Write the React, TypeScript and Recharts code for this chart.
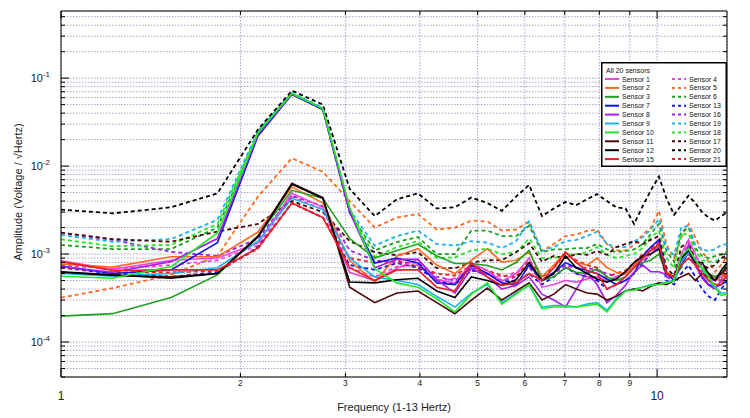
import React from 'react';
import { LineChart, Line, XAxis, YAxis, CartesianGrid, Legend, Label, ReferenceLine } from 'recharts';

// frequency bins (Hz)
const FREQS = [1.0, 1.22, 1.53, 1.83, 2.14, 2.44, 2.75, 3.05, 3.36, 3.66, 3.97, 4.27, 4.58, 4.88, 5.19, 5.49, 5.80, 6.10, 6.41, 6.71, 7.02, 7.32, 7.63, 7.93, 8.24, 8.54, 8.85, 9.15, 9.46, 9.76, 10.07, 10.37, 10.68, 10.98, 11.29, 11.59, 11.90, 12.20, 12.51, 12.81, 13.12];

// amplitudes, in units of 1e-3 V/sqrt(Hz)
const SENSOR_1 = [0.84, 0.67, 0.85, 0.9, 1.33, 4.9, 3.4, 0.62, 0.5, 0.69, 0.87, 0.51, 0.47, 0.79, 0.65, 0.49, 0.6, 0.9, 0.42, 0.45, 0.5, 0.48, 0.52, 0.55, 0.5, 0.55, 0.6, 0.7, 0.85, 1.0, 1.2, 0.6, 0.55, 1.0, 1.45, 1.0, 0.7, 0.6, 0.5, 0.55, 0.7];
const SENSOR_2 = [0.77, 0.71, 0.93, 0.93, 1.78, 5.8, 3.8, 0.85, 0.48, 0.95, 1.15, 0.75, 0.6, 0.85, 1.15, 0.81, 0.85, 1.05, 0.55, 0.75, 1.05, 0.8, 0.75, 0.9, 0.7, 0.62, 0.6, 0.75, 0.9, 1.1, 1.3, 0.63, 0.55, 0.8, 1.1, 0.8, 0.7, 0.6, 0.55, 0.5, 0.8];
const SENSOR_3 = [0.197, 0.21, 0.32, 0.58, 1.6, 5.3, 4.3, 1.5, 0.9, 1.1, 1.3, 0.95, 0.78, 0.78, 0.74, 0.66, 0.8, 1.1, 0.5, 0.55, 0.7, 0.62, 0.6, 0.68, 0.55, 0.5, 0.55, 0.7, 0.8, 0.85, 1.0, 0.6, 0.55, 0.7, 1.15, 0.85, 0.7, 0.6, 0.55, 0.6, 0.75];
const SENSOR_4 = [0.75, 0.68, 0.75, 0.85, 1.25, 4.5, 3.2, 0.7, 0.55, 0.72, 0.75, 0.5, 0.53, 0.69, 0.6, 0.55, 0.62, 0.72, 0.5, 0.6, 0.75, 0.6, 0.55, 0.55, 0.5, 0.55, 0.6, 0.75, 0.9, 1.05, 1.3, 0.6, 0.55, 0.95, 1.3, 0.9, 0.7, 0.6, 0.55, 0.6, 0.7];
const SENSOR_5 = [0.32, 0.41, 0.58, 0.95, 4.5, 12.3, 8.6, 4.0, 2.0, 2.6, 2.85, 1.9, 2.0, 2.4, 2.35, 1.85, 1.9, 2.35, 1.08, 1.3, 1.6, 1.67, 1.83, 1.9, 1.3, 1.1, 1.1, 1.27, 1.67, 2.0, 3.1, 1.27, 0.9, 1.55, 2.2, 1.55, 1.08, 0.82, 0.63, 0.75, 0.95];
const SENSOR_6 = [1.27, 1.14, 1.14, 2.0, 23, 66, 44, 2.9, 1.1, 1.37, 1.56, 1.0, 1.0, 1.85, 1.85, 1.6, 1.6, 2.1, 1.05, 1.13, 1.13, 1.17, 1.17, 1.3, 1.13, 1.05, 1.08, 1.13, 1.3, 1.7, 2.2, 1.08, 0.82, 1.8, 2.0, 1.17, 0.95, 0.9, 0.95, 0.98, 1.08];
const SENSOR_7 = [0.73, 0.6, 0.66, 1.35, 22, 65, 44, 3.0, 0.79, 0.9, 0.79, 0.47, 0.45, 0.75, 0.6, 0.47, 0.44, 0.75, 0.5, 0.62, 0.8, 0.7, 0.65, 0.6, 0.52, 0.45, 0.5, 0.6, 0.95, 1.2, 1.45, 0.6, 0.5, 0.75, 1.05, 0.75, 0.55, 0.45, 0.42, 0.45, 0.5];
const SENSOR_8 = [0.72, 0.62, 0.82, 1.5, 23, 66, 45, 3.0, 0.7, 0.87, 0.87, 0.51, 0.36, 0.69, 0.55, 0.4, 0.44, 0.55, 0.35, 0.3, 0.25, 0.4, 0.63, 0.45, 0.28, 0.34, 0.44, 0.63, 0.75, 0.63, 0.63, 0.58, 0.55, 0.82, 1.27, 0.75, 0.53, 0.44, 0.4, 0.5, 0.55];
const SENSOR_9 = [0.6, 0.56, 0.6, 0.7, 1.4, 4.3, 3.2, 0.9, 0.55, 0.5, 0.45, 0.33, 0.25, 0.36, 0.45, 0.28, 0.36, 0.44, 0.25, 0.26, 0.26, 0.25, 0.27, 0.28, 0.23, 0.31, 0.38, 0.4, 0.42, 0.45, 0.46, 0.48, 0.5, 0.8, 1.05, 0.85, 0.68, 0.5, 0.42, 0.36, 0.36];
const SENSOR_10 = [0.56, 0.53, 0.72, 1.74, 24, 67, 45, 3.4, 0.68, 0.47, 0.42, 0.31, 0.22, 0.35, 0.47, 0.27, 0.35, 0.45, 0.24, 0.25, 0.25, 0.25, 0.26, 0.27, 0.22, 0.3, 0.38, 0.39, 0.42, 0.44, 0.45, 0.47, 0.5, 0.95, 1.15, 0.85, 0.7, 0.55, 0.42, 0.34, 0.35];
const SENSOR_11 = [0.62, 0.57, 0.55, 0.6, 1.6, 6.4, 4.4, 0.42, 0.28, 0.36, 0.38, 0.28, 0.21, 0.3, 0.41, 0.3, 0.38, 0.47, 0.3, 0.35, 0.45, 0.4, 0.36, 0.35, 0.3, 0.33, 0.38, 0.4, 0.38, 0.43, 0.47, 0.45, 0.5, 0.55, 0.6, 0.5, 0.6, 0.55, 0.5, 0.6, 0.7];
const SENSOR_12 = [0.63, 0.58, 0.53, 0.6, 1.56, 6.2, 4.3, 0.48, 0.47, 0.51, 0.53, 0.38, 0.32, 0.55, 0.5, 0.44, 0.51, 0.8, 0.5, 0.6, 0.95, 0.7, 0.6, 0.52, 0.48, 0.52, 0.63, 0.8, 0.95, 1.0, 1.15, 0.6, 0.55, 0.9, 1.1, 0.8, 0.8, 0.6, 0.5, 0.65, 0.8];
const SENSOR_13 = [0.7, 0.6, 0.55, 0.62, 1.2, 3.8, 2.6, 0.75, 0.66, 0.79, 0.7, 0.5, 0.45, 0.65, 0.6, 0.5, 0.48, 0.6, 0.45, 0.55, 0.7, 0.6, 0.55, 0.5, 0.4, 0.45, 0.5, 0.6, 0.8, 1.0, 1.25, 0.5, 0.45, 0.6, 0.75, 0.55, 0.4, 0.33, 0.3, 0.4, 0.5];
const SENSOR_15 = [0.82, 0.65, 0.66, 0.66, 1.17, 3.8, 2.6, 0.7, 0.5, 0.66, 0.66, 0.42, 0.38, 0.79, 0.55, 0.44, 0.47, 0.6, 0.5, 0.7, 1.05, 0.8, 0.65, 0.6, 0.4, 0.45, 0.55, 0.7, 0.9, 1.1, 1.3, 0.6, 0.55, 0.75, 0.9, 0.75, 0.6, 0.5, 0.45, 0.45, 0.6];
const SENSOR_16 = [1.75, 1.45, 1.06, 0.95, 1.5, 4.6, 3.5, 1.1, 0.85, 0.8, 0.8, 0.55, 0.5, 0.7, 0.6, 0.5, 0.55, 0.7, 0.5, 0.6, 0.75, 0.7, 0.7, 0.65, 0.6, 0.55, 0.6, 0.75, 0.9, 1.1, 1.2, 0.55, 0.5, 0.85, 1.2, 0.8, 0.6, 0.5, 0.5, 0.55, 0.65];
const SENSOR_17 = [1.75, 1.48, 1.38, 1.8, 2.2, 4.0, 3.0, 1.4, 1.05, 0.97, 1.05, 0.69, 0.69, 0.8, 0.85, 0.85, 1.05, 1.33, 0.82, 0.95, 0.9, 1.0, 0.98, 1.08, 0.98, 1.2, 1.3, 1.4, 1.3, 1.45, 1.6, 0.69, 0.57, 1.2, 1.4, 0.82, 0.75, 0.69, 0.75, 0.9, 0.98];
const SENSOR_18 = [1.47, 1.23, 1.27, 2.2, 24, 67, 45, 3.0, 0.93, 1.2, 1.4, 0.9, 0.92, 1.1, 1.15, 1.0, 1.05, 1.5, 0.9, 0.9, 0.98, 1.0, 1.05, 1.2, 0.98, 0.9, 0.95, 1.0, 1.17, 1.55, 1.83, 0.9, 0.69, 1.67, 1.7, 1.08, 0.85, 0.82, 0.82, 0.9, 0.98];
const SENSOR_19 = [1.65, 1.38, 1.48, 2.45, 25, 68, 46, 3.2, 1.25, 1.6, 1.85, 1.3, 1.25, 1.4, 1.35, 1.17, 1.4, 2.35, 1.08, 1.2, 1.4, 1.45, 1.6, 1.8, 1.3, 1.2, 1.2, 1.4, 1.55, 1.9, 2.5, 1.17, 0.98, 2.0, 2.1, 1.27, 1.13, 1.08, 1.13, 1.27, 1.3];
const SENSOR_20 = [3.2, 2.9, 3.4, 4.9, 26, 72, 50, 5.5, 2.7, 4.2, 4.9, 3.3, 3.4, 4.4, 3.8, 3.1, 4.5, 6.1, 2.7, 3.3, 3.9, 3.6, 4.2, 4.8, 4.0, 3.4, 3.3, 2.2, 3.5, 5.3, 7.6, 4.3, 2.8, 3.6, 4.6, 3.8, 3.0, 2.6, 2.4, 2.7, 3.0];
const SENSOR_21 = [0.7, 0.62, 0.62, 0.64, 1.15, 3.8, 2.6, 0.9, 0.8, 0.85, 0.72, 0.6, 0.57, 0.75, 0.65, 0.57, 0.55, 0.85, 0.55, 0.7, 1.0, 0.85, 0.75, 0.7, 0.55, 0.6, 0.65, 0.8, 1.0, 1.15, 1.35, 0.6, 0.55, 0.8, 1.0, 0.8, 0.65, 0.55, 0.5, 0.5, 0.65];

const X_TICKS = [1, 2, 3, 4, 5, 6, 7, 8, 9, 10];
const Y_TICKS = [
    4e-5, 5e-5, 6e-5, 7e-5, 8e-5, 9e-5,
    1e-4, 2e-4, 3e-4, 4e-4, 5e-4, 6e-4, 7e-4, 8e-4, 9e-4,
    1e-3, 2e-3, 3e-3, 4e-3, 5e-3, 6e-3, 7e-3, 8e-3, 9e-3,
    1e-2, 2e-2, 3e-2, 4e-2, 5e-2, 6e-2, 7e-2, 8e-2, 9e-2,
    0.1, 0.2, 0.3, 0.4, 0.5,
];

const C = {
    pink: '#f046d8',
    orange: '#ff6a1c',
    green: '#20a020',
    blue: '#1414e0',
    purple: '#a420ec',
    cyan: '#1cb2f2',
    lime: '#22ea22',
    maroon: '#4a0a0a',
    black: '#000000',
    red: '#ee1e24',
};

type Series = { key: string; name: string; color: string; dashed: boolean; values: number[] };

const SERIES: Series[] = [
    { key: 's4', name: 'Sensor 4', color: C.pink, dashed: true, values: SENSOR_4 },
    { key: 's5', name: 'Sensor 5', color: C.orange, dashed: true, values: SENSOR_5 },
    { key: 's6', name: 'Sensor 6', color: C.green, dashed: true, values: SENSOR_6 },
    { key: 's13', name: 'Sensor 13', color: C.blue, dashed: true, values: SENSOR_13 },
    { key: 's16', name: 'Sensor 16', color: C.purple, dashed: true, values: SENSOR_16 },
    { key: 's19', name: 'Sensor 19', color: C.cyan, dashed: true, values: SENSOR_19 },
    { key: 's18', name: 'Sensor 18', color: C.lime, dashed: true, values: SENSOR_18 },
    { key: 's17', name: 'Sensor 17', color: C.maroon, dashed: true, values: SENSOR_17 },
    { key: 's20', name: 'Sensor 20', color: C.black, dashed: true, values: SENSOR_20 },
    { key: 's21', name: 'Sensor 21', color: C.red, dashed: true, values: SENSOR_21 },
    { key: 's1', name: 'Sensor 1', color: C.pink, dashed: false, values: SENSOR_1 },
    { key: 's2', name: 'Sensor 2', color: C.orange, dashed: false, values: SENSOR_2 },
    { key: 's3', name: 'Sensor 3', color: C.green, dashed: false, values: SENSOR_3 },
    { key: 's7', name: 'Sensor 7', color: C.blue, dashed: false, values: SENSOR_7 },
    { key: 's8', name: 'Sensor 8', color: C.purple, dashed: false, values: SENSOR_8 },
    { key: 's9', name: 'Sensor 9', color: C.cyan, dashed: false, values: SENSOR_9 },
    { key: 's11', name: 'Sensor 11', color: C.maroon, dashed: false, values: SENSOR_11 },
    { key: 's12', name: 'Sensor 12', color: C.black, dashed: false, values: SENSOR_12 },
    { key: 's15', name: 'Sensor 15', color: C.red, dashed: false, values: SENSOR_15 },
    { key: 's10', name: 'Sensor 10', color: C.lime, dashed: false, values: SENSOR_10 },
];

const LEGEND_LEFT = ['s1', 's2', 's3', 's7', 's8', 's9', 's10', 's11', 's12', 's15'];
const LEGEND_RIGHT = ['s4', 's5', 's6', 's13', 's16', 's19', 's18', 's17', 's20', 's21'];

const rows = FREQS.map((f, i) => {
    const row: Record<string, number> = { f };
    SERIES.forEach((s) => { row[s.key] = s.values[i] * 1e-3; });
    return row;
});

const FONT = '"Liberation Sans", Arial, sans-serif';
const PLOT = { left: 61, top: 11, right: 727, bottom: 377 };
const DASH = '4 3';

const isDecade = (v: number) => {
    const l = Math.log10(v);
    return Math.abs(l - Math.round(l)) < 1e-6;
};

function YTick(props: any) {
    const { x, y, payload } = props;
    const major = isDecade(payload.value);
    const len = major ? 8 : 4;
    const exp = Math.round(Math.log10(payload.value));
    return (
        <g>
            <line x1={x} x2={x + len} y1={y} y2={y} stroke="#000" />
            <line x1={PLOT.right - len} x2={PLOT.right} y1={y} y2={y} stroke="#000" />
            {major && (
                <text x={x - 11} y={y + 4} textAnchor="end" fontSize={11} fill="#222" fontFamily={FONT}>
                    10<tspan dy={-5} fontSize={8}>{exp}</tspan>
                </text>
            )}
        </g>
    );
}

function XTick(props: any) {
    const { x, y, payload } = props;
    const major = isDecade(payload.value);
    const len = major ? 8 : 4;
    return (
        <g>
            <line x1={x} x2={x} y1={y} y2={y - len} stroke="#000" />
            <line x1={x} x2={x} y1={PLOT.top} y2={PLOT.top + len} stroke="#000" />
            {major ? (
                <text x={x} y={y + 23} textAnchor="middle" fontSize={12} fill="#222" fontFamily={FONT}>
                    {payload.value}
                </text>
            ) : (
                <text x={x} y={y + 9} textAnchor="middle" fontSize={8.5} fill="#222" fontFamily={FONT}>
                    {payload.value}
                </text>
            )}
        </g>
    );
}

function LegendBox() {
    const byKey = (k: string) => SERIES.find((s) => s.key === k)!;
    const rowY = (i: number) => 17 + i * 8.9;
    return (
        <svg width={126} height={105} style={{ display: 'block' }}>
            <rect x={0.75} y={0.75} width={124.5} height={103.5} fill="#fff" stroke="#000" strokeWidth={1.5} />
            <text x={5} y={11} fontSize={7} fontFamily={FONT} fill="#111">All 20 sensors</text>
            {LEGEND_LEFT.map((k, i) => {
                const s = byKey(k);
                return (
                    <g key={k}>
                        <line x1={4} x2={18} y1={rowY(i)} y2={rowY(i)} stroke={s.color} strokeWidth={2} />
                        <text x={21} y={rowY(i) + 2.5} fontSize={7} fontFamily={FONT} fill="#111">{s.name}</text>
                    </g>
                );
            })}
            {LEGEND_RIGHT.map((k, i) => {
                const s = byKey(k);
                return (
                    <g key={k}>
                        <line x1={71} x2={85} y1={rowY(i)} y2={rowY(i)} stroke={s.color} strokeWidth={2} strokeDasharray="3 3" />
                        <text x={88} y={rowY(i) + 2.5} fontSize={7} fontFamily={FONT} fill="#111">{s.name}</text>
                    </g>
                );
            })}
        </svg>
    );
}

export default function App() {
    return (
        <div style={{ position: 'absolute', left: 0, top: 0, width: 750, height: 418, background: '#fff' }}>
            <LineChart
                width={750}
                height={418}
                data={rows}
                margin={{ top: PLOT.top, right: 750 - PLOT.right, bottom: 418 - PLOT.bottom - 30, left: 0 }}
            >
                <CartesianGrid stroke="#a6a6c8" strokeDasharray="1.5 1.5" />
                <XAxis
                    dataKey="f"
                    type="number"
                    scale="log"
                    domain={[1, 13.1]}
                    allowDataOverflow
                    ticks={X_TICKS}
                    tick={<XTick />}
                    tickSize={0}
                    tickMargin={0}
                    tickLine={false}
                    height={30}
                    axisLine={{ stroke: '#000' }}
                    interval={0}
                >
                    <Label
                        content={() => (
                            <text x={394} y={411} textAnchor="middle" fontSize={11} fill="#222" fontFamily={FONT}>
                                Frequency (1-13 Hertz)
                            </text>
                        )}
                    />
                </XAxis>
                <YAxis
                    type="number"
                    scale="log"
                    domain={[4e-5, 0.58]}
                    allowDataOverflow
                    ticks={Y_TICKS}
                    tick={<YTick />}
                    tickSize={0}
                    tickMargin={0}
                    tickLine={false}
                    width={61}
                    axisLine={{ stroke: '#000' }}
                    interval={0}
                >
                    <Label
                        content={() => (
                            <text
                                x={22}
                                y={192}
                                transform="rotate(-90 22 192)"
                                textAnchor="middle"
                                fontSize={11}
                                fill="#222"
                                fontFamily={FONT}
                            >
                                Amplitude (Voltage / √Hertz)
                            </text>
                        )}
                    />
                </YAxis>
                <ReferenceLine y={0.58} stroke="#000" ifOverflow="visible" />
                <ReferenceLine x={13.1} stroke="#000" ifOverflow="visible" />
                {SERIES.map((s) => (
                    <Line
                        key={s.key}
                        dataKey={s.key}
                        name={s.name}
                        type="linear"
                        stroke={s.color}
                        strokeWidth={s.dashed ? 1.8 : 1.6}
                        strokeDasharray={s.dashed ? DASH : undefined}
                        dot={false}
                        activeDot={false}
                        isAnimationActive={false}
                    />
                ))}
                <Legend
                    layout="horizontal"
                    align="center"
                    verticalAlign="middle"
                    content={() => <LegendBox />}
                    wrapperStyle={{ left: 601, top: 62, width: 126, height: 105 }}
                />
            </LineChart>
        </div>
    );
}
